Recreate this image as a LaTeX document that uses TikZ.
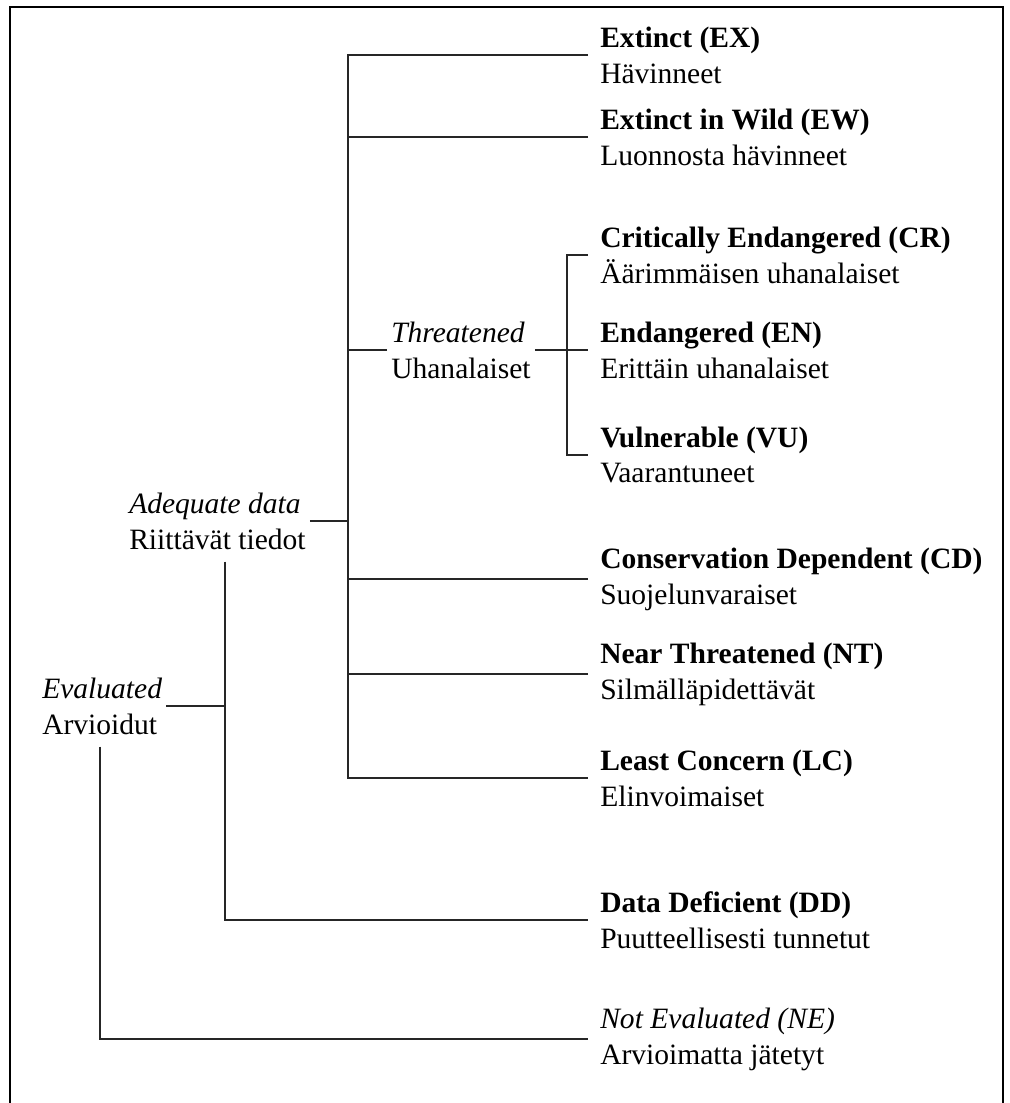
\documentclass[tikz,border=0pt]{standalone}
\usepackage{fontspec}
\setmainfont{Liberation Serif}
\usepackage{tikz}
\usetikzlibrary{positioning}

\begin{document}
\begin{tikzpicture}[x=0.025cm, y=-0.025cm, font=\fontsize{21}{25.5}\selectfont,
  cat/.style={anchor=west, align=left, inner xsep=0.3cm, inner ysep=0pt},
  grp/.style={anchor=west, align=left, inner xsep=0.1cm, inner ysep=0.3cm},
  branch/.style={line width=1.2pt, black!85}]
  \useasboundingbox (0,0) rectangle (1010,1103);
  \draw[line width=1pt] (10,1103) -- (10,7) -- (1003,7) -- (1003,1103);

  \coordinate (evert) at (100,0);
  \coordinate (advert) at (225,0);
  \coordinate (trunk) at (348,0);
  \coordinate (sub) at (567,0);

  \node[cat] (ex) at (588,55) {\textbf{Extinct (EX)}\\Hävinneet};
  \node[cat] (ew) at (588,137) {\textbf{Extinct in Wild (EW)}\\Luonnosta hävinneet};
  \node[cat] (cr) at (588,255) {\textbf{Critically Endangered (CR)}\\Äärimmäisen uhanalaiset};
  \node[cat] (en) at (588,350) {\textbf{Endangered (EN)}\\Erittäin uhanalaiset};
  \node[cat] (vu) at (588,455) {\textbf{Vulnerable (VU)}\\Vaarantuneet};
  \node[cat] (cd) at (588,579) {\textbf{Conservation Dependent (CD)}\\Suojelunvaraiset};
  \node[cat] (nt) at (588,674) {\textbf{Near Threatened (NT)}\\Silmälläpidettävät};
  \node[cat] (lc) at (588,778) {\textbf{Least Concern (LC)}\\Elinvoimaiset};
  \node[cat] (dd) at (588,920) {\textbf{Data Deficient (DD)}\\Puutteellisesti tunnetut};
  \node[cat] (ne) at (588,1039) {\textit{Not Evaluated (NE)}\\Arvioimatta jätetyt};

  \node[grp] (thr) at (387,350) {\textit{Threatened}\\Uhanalaiset};
  \node[grp] (ad) at (125,521) {\textit{Adequate data}\\Riittävät tiedot};
  \node[grp] (ev) at (38,706) {\textit{Evaluated}\\Arvioidut};

  \draw[branch] (ex.west) -| (lc.west -| trunk) -- (lc.west);
  \foreach \n in {ew, cd, nt}
    \draw[branch] (\n.west) -- (\n.west -| trunk);
  \draw[branch] (thr.west) -- (thr.west -| trunk);
  \draw[branch] (thr.east) -- (en.west);
  \draw[branch] (cr.west) -| (vu.west -| sub) -- (vu.west);

  \draw[branch] (ad.east) -- (ad.east -| trunk);
  \draw[branch] (ad.south -| advert) |- (dd.west);
  \draw[branch] (ev.east) -- (ev.east -| advert);
  \draw[branch] (ev.south -| evert) |- (ne.west);
\end{tikzpicture}
\end{document}
